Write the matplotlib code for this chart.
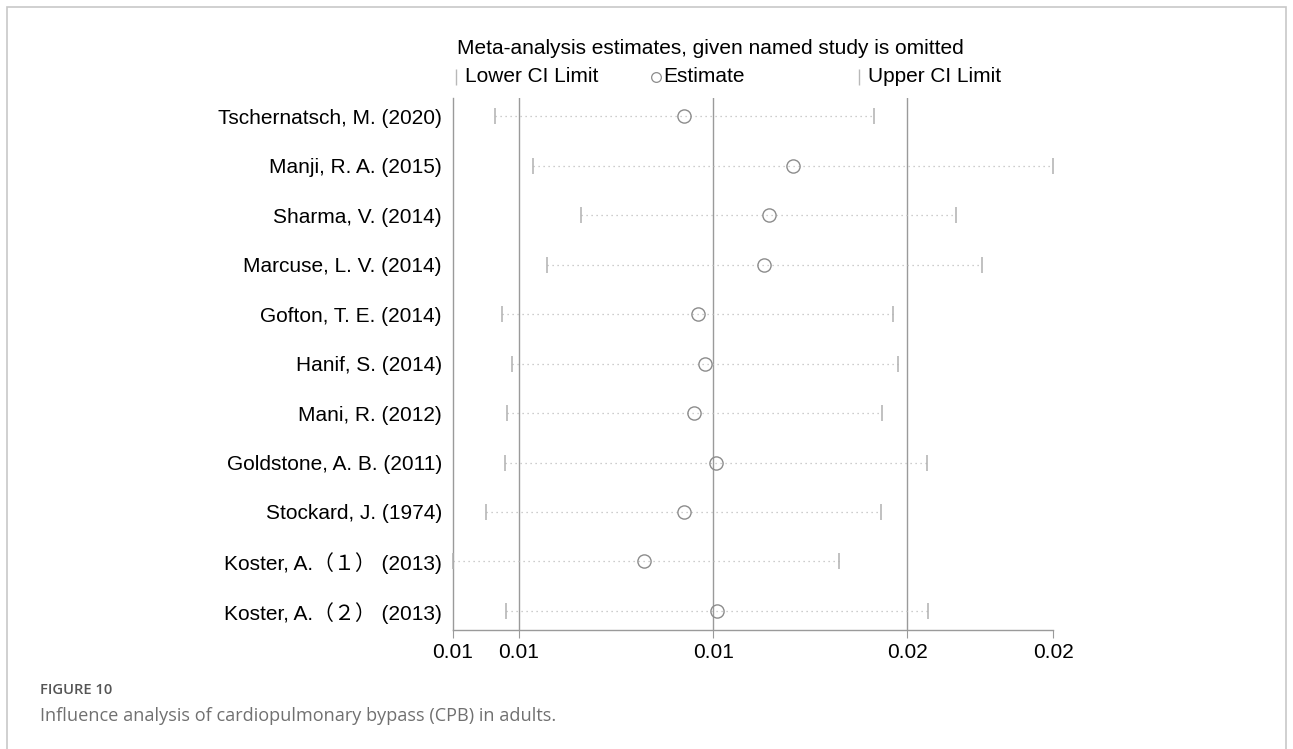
import numpy as np
import matplotlib.pyplot as plt
from matplotlib.patches import Rectangle

plt.rcParams['font.family'] = ['Liberation Sans', 'Noto Sans CJK SC']

# leave-one-out estimates (study omitted)
studies = [
    "Tschernatsch, M. (2020)",
    "Manji, R. A. (2015)",
    "Sharma, V. (2014)",
    "Marcuse, L. V. (2014)",
    "Gofton, T. E. (2014)",
    "Hanif, S. (2014)",
    "Mani, R. (2012)",
    "Goldstone, A. B. (2011)",
    "Stockard, J. (1974)",
    "Koster, A.（１） (2013)",
    "Koster, A.（２） (2013)",
]
lower = [0.00807, 0.00875, 0.00961, 0.00900, 0.00819, 0.00838, 0.00828, 0.00825, 0.00791, 0.00731, 0.00826]
estimate = [0.01148, 0.01344, 0.01300, 0.01292, 0.01172, 0.01186, 0.01165, 0.01205, 0.01147, 0.01076, 0.01207]
upper = [0.01490, 0.01813, 0.01638, 0.01685, 0.01525, 0.01534, 0.01504, 0.01586, 0.01503, 0.01427, 0.01588]
overall = [0.0085, 0.0120, 0.0155]  # lower CI, estimate, upper CI of full analysis

W, H = 1293, 749
fig = plt.figure(figsize=(W / 100, H / 100), dpi=100)
fig.patch.set_facecolor('white')

# outer frame of the figure panel
fig.add_artist(Rectangle((7 / W, -0.05), 1279 / W, 1 - 7 / H + 0.05,
                         transform=fig.transFigure, fill=False,
                         edgecolor='#c8c8c8', linewidth=1.2))

ax = fig.add_axes([453 / W, 119 / H, 600 / W, 532 / H])

n = len(studies)
ypos = np.arange(n, 0, -1)

for v in overall:
    ax.axvline(v, color='#9a9a9a', linewidth=1, zorder=1)

for lo, est, hi, y in zip(lower, estimate, upper, ypos):
    ax.plot([lo, hi], [y, y], linestyle=(0, (1, 3)), color='#bdbdbd', linewidth=0.9, zorder=2)
ax.plot(lower, ypos, linestyle='none', marker='|', markersize=11, markeredgewidth=1.1,
        color='#b0b0b0', zorder=3, clip_on=False)
ax.plot(upper, ypos, linestyle='none', marker='|', markersize=11, markeredgewidth=1.1,
        color='#b0b0b0', zorder=3, clip_on=False)
ax.plot(estimate, ypos, linestyle='none', marker='o', markersize=9.5, markerfacecolor='none',
        markeredgecolor='#8c8c8c', markeredgewidth=1, zorder=4)

xmin, xmax = min(lower), max(upper)
ax.set_xlim(xmin, xmax)
ax.set_ylim(0.616, n + 0.364)
xticks = [xmin] + overall + [xmax]
ax.set_xticks(xticks)
ax.set_xticklabels(["%.2f" % t for t in xticks])
ax.set_yticks(ypos)
ax.set_yticklabels(studies)

for side in ['top', 'right']:
    ax.spines[side].set_visible(False)
for side in ['left', 'bottom']:
    ax.spines[side].set_color('#9a9a9a')
    ax.spines[side].set_linewidth(1)
ax.tick_params(axis='x', direction='out', length=6, color='#9a9a9a', labelsize=15, pad=3)
ax.tick_params(axis='y', length=0, labelsize=15, pad=8)

# title and legend keys above the plot
fig.text(457 / W, 1 - 49 / H, "Meta-analysis estimates, given named study is omitted",
         fontsize=15, va='center', ha='left')
ly = 1 - 77 / H
for kx, mk, label in [(456, '|', "Lower CI Limit"), (656, 'o', "Estimate"), (859, '|', "Upper CI Limit")]:
    if mk == 'o':
        fig.add_artist(plt.Line2D([kx / W], [ly], marker='o', markersize=7, markerfacecolor='none',
                                  markeredgecolor='#8c8c8c', markeredgewidth=0.9,
                                  transform=fig.transFigure))
        fig.text((kx + 7) / W, ly, label, fontsize=15, va='center', ha='left')
    else:
        fig.add_artist(plt.Line2D([kx / W], [ly], marker='|', markersize=11, markeredgewidth=1,
                                  color='#b8b8b8', transform=fig.transFigure))
        fig.text((kx + 9) / W, ly, label, fontsize=15, va='center', ha='left')

# caption
fig.text(40 / W, 1 - 690 / H, "FIGURE 10", fontsize=10.6, color='#555555',
         family='Open Sans', fontweight='semibold', va='center', ha='left')
fig.text(40 / W, 1 - 716 / H, "Influence analysis of cardiopulmonary bypass (CPB) in adults.",
         fontsize=13.1, color='#707070', family='Open Sans',
         va='center', ha='left')

plt.savefig("out.png", dpi=100)
plt.close()
